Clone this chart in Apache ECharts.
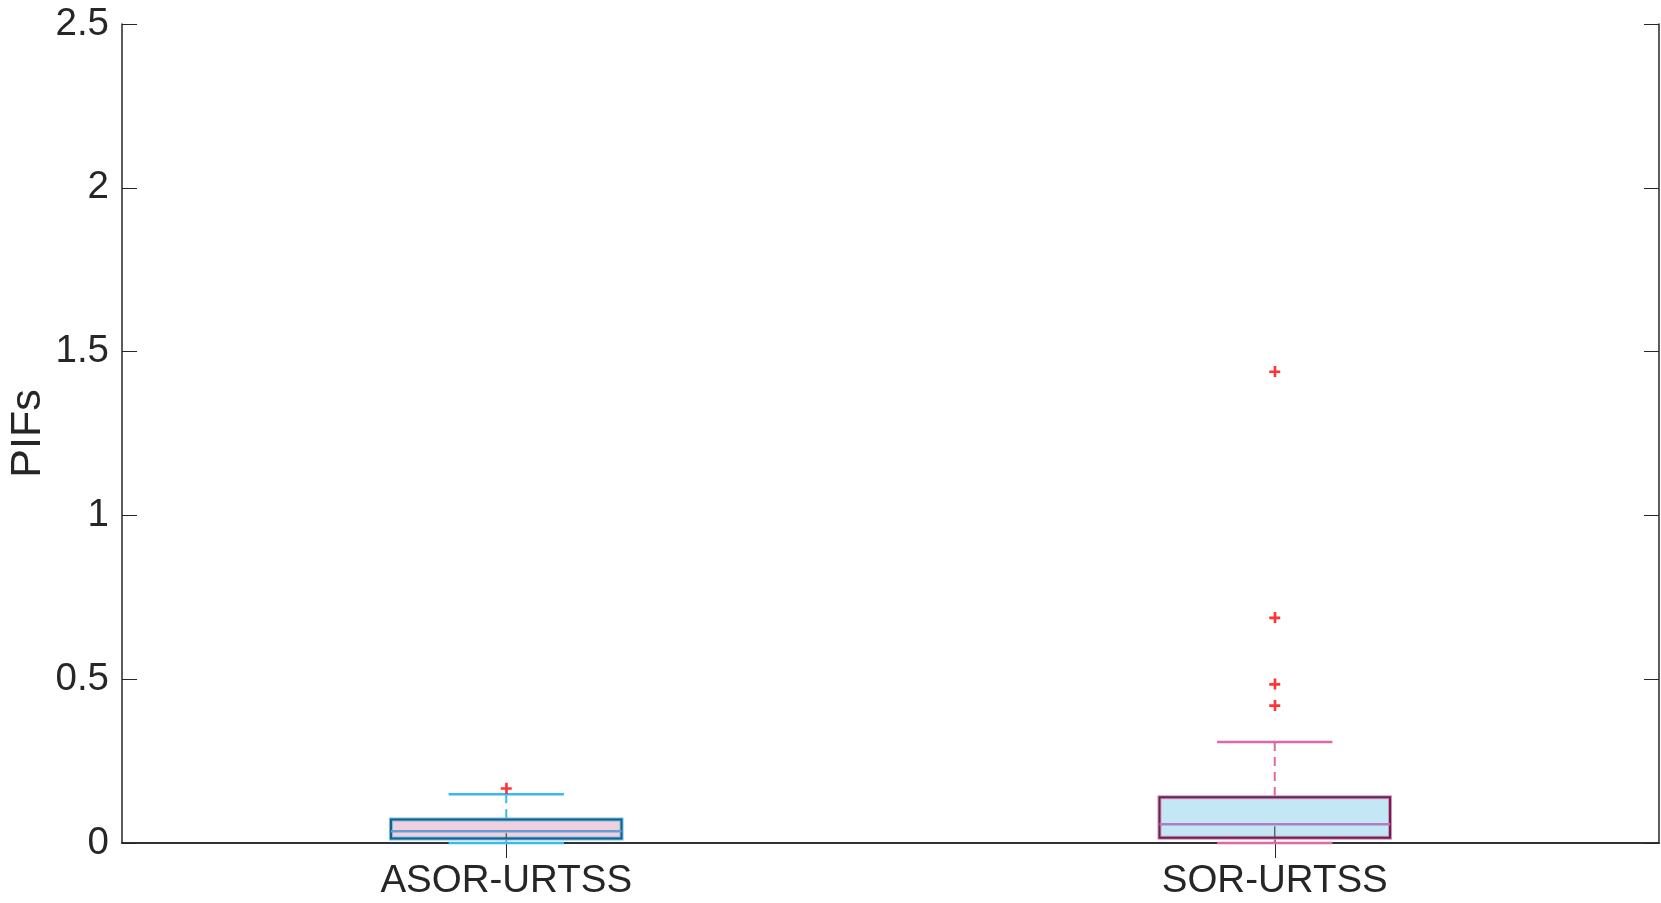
<!DOCTYPE html>
<html>
<head>
<meta charset="utf-8">
<title>PIFs boxplot</title>
<script src="https://cdn.jsdelivr.net/npm/echarts@6/dist/echarts.min.js"></script>
<style>
  html, body { margin: 0; padding: 0; background: #fff; }
  #chart { width: 1661px; height: 903px; }
</style>
</head>
<body>
<div id="chart"></div>
<script>
// box statistics
const categories = ['ASOR-URTSS', 'SOR-URTSS'];
const lowerWhisker = [0, 0];
const q1 = [0.014, 0.016];
const median = [0.036, 0.057];
const q3 = [0.072, 0.14];
const upperWhisker = [0.149, 0.308];
// outliers: [category index, value]
const outliers = [[0, 0.167], [1, 1.439], [1, 0.688], [1, 0.485], [1, 0.42]];
const yTicks = [0, 0.5, 1, 1.5, 2, 2.5];

const boxStyles = [
  { fill: '#EFD0DF', edge: '#1F5C87', halo: '#6CC3EA', mid: '#6B9CCF', whisker: '#3DB8EC' },
  { fill: '#C4E7F6', edge: '#5A2A52', halo: '#E58DBA', mid: '#B07EBE', whisker: '#DB6AA5' }
];

const boxData = categories.map((c, i) => [i, lowerWhisker[i], q1[i], median[i], q3[i], upperWhisker[i]]);

const textColor = '#262626';
const fontFamily = "'Liberation Sans', Arial, Helvetica, sans-serif";

function renderBox(params, api) {
  const idx = api.value(0);
  const st = boxStyles[idx];
  const xc = api.coord([idx, 0])[0];
  const band = api.size([1, 0])[0];
  const half = band * 0.15;
  const capHalf = band * 0.075;
  const y = (k) => api.coord([idx, api.value(k)])[1];
  const yLo = y(1), yQ1 = y(2), yMed = y(3), yQ3 = y(4), yHi = y(5);

  const line = (x1, y1, x2, y2, stroke, width, dash) => ({
    type: 'line',
    shape: { x1, y1, x2, y2 },
    style: { stroke, lineWidth: width, lineDash: dash || null }
  });

  return {
    type: 'group',
    children: [
      line(xc, yHi, xc, yQ3, st.whisker, 2, [9, 6]),
      line(xc, yQ1, xc, yLo, st.whisker, 2),
      line(xc - capHalf, yHi, xc + capHalf, yHi, st.whisker, 2.5),
      line(xc - capHalf, yLo, xc + capHalf, yLo, st.whisker, 2.5),
      {
        type: 'rect',
        shape: { x: xc - half, y: yQ3, width: half * 2, height: yQ1 - yQ3 },
        style: { fill: st.fill, stroke: st.halo, lineWidth: 4 }
      },
      {
        type: 'rect',
        shape: { x: xc - half, y: yQ3, width: half * 2, height: yQ1 - yQ3 },
        style: { fill: 'none', stroke: st.edge, lineWidth: 2 }
      },
      line(xc - half, yMed, xc + half, yMed, st.mid, 2.5),
      line(xc, yMed + 2, xc, yQ1, '#4a4a4a', 1.2)
    ]
  };
}

const chart = echarts.init(document.getElementById('chart'));

const axisLine = { show: true, lineStyle: { color: textColor, width: 1.5 } };

chart.setOption({
  backgroundColor: '#ffffff',
  animation: false,
  grid: { left: 122, right: 2, top: 24, bottom: 60, containLabel: false, outerBoundsMode: 'none' },
  xAxis: [
    {
      type: 'category',
      data: categories,
      boundaryGap: true,
      axisLine: axisLine,
      axisTick: { show: true, inside: true, alignWithLabel: true, length: 15, lineStyle: { color: textColor } },
      axisLabel: { color: textColor, fontSize: 38.5, fontFamily: fontFamily, margin: 19 },
      splitLine: { show: false }
    },
    {
      type: 'category',
      data: categories,
      position: 'top',
      boundaryGap: true,
      axisLine: axisLine,
      axisTick: { show: true, inside: true, alignWithLabel: true, length: 15, lineStyle: { color: textColor } },
      axisLabel: { show: false },
      splitLine: { show: false }
    }
  ],
  yAxis: [
    {
      type: 'value',
      min: yTicks[0],
      max: yTicks[yTicks.length - 1],
      interval: 0.5,
      name: 'PIFs',
      nameLocation: 'middle',
      nameRotate: 90,
      nameGap: 72,
      nameMoveOverlap: false,
      nameTextStyle: { color: textColor, fontSize: 43, fontFamily: fontFamily },
      axisLine: axisLine,
      axisTick: { show: true, inside: true, length: 15, lineStyle: { color: textColor } },
      axisLabel: { color: textColor, fontSize: 38.5, fontFamily: fontFamily, margin: 13 },
      splitLine: { show: false }
    },
    {
      type: 'value',
      position: 'right',
      min: yTicks[0],
      max: yTicks[yTicks.length - 1],
      interval: 0.5,
      axisLine: axisLine,
      axisTick: { show: true, inside: true, length: 15, lineStyle: { color: textColor } },
      axisLabel: { show: false },
      splitLine: { show: false }
    }
  ],
  series: [
    {
      type: 'custom',
      name: 'PIFs',
      renderItem: renderBox,
      encode: { x: 0, y: [1, 2, 3, 4, 5] },
      data: boxData,
      z: 3
    },
    {
      type: 'scatter',
      name: 'Outliers',
      data: outliers,
      symbol: 'path://M4,0H6.4V4H10V6.4H6.4V10H4V6.4H0V4H4Z',
      symbolSize: 11,
      itemStyle: { color: '#FF0000' },
      z: 4
    }
  ]
});

window.addEventListener('resize', () => chart.resize());
</script>
</body>
</html>
